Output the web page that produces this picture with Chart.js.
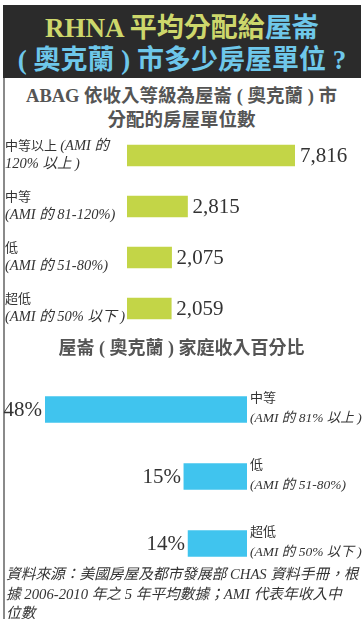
<!DOCTYPE html>
<html>
<head>
<meta charset="utf-8">
<script src="https://cdn.jsdelivr.net/npm/chart.js@4/dist/chart.umd.min.js"></script>
<style>
  html, body { margin: 0; padding: 0; background: #fff; }
  body { width: 363px; height: 619px; position: relative; overflow: hidden;
         font-family: "Liberation Serif", "Noto Sans CJK TC", serif; }
  .frame { position: absolute; left: 3px; top: 78px; width: 2px; height: 541px; background: #8a8a8a; }
  .banner { position: absolute; left: 3px; top: 5px; width: 358px; height: 73px; background: #2b2b2b;
            text-align: center; font-weight: bold; font-size: 27px; line-height: 32px; padding-top: 7px;
            box-sizing: border-box; white-space: nowrap; }
  .yl { color: #cdd76b; }
  .bl { color: #6ec7ea; }
  .sub { position: absolute; left: 0; width: 363px; text-align: center; color: #555;
         font-weight: bold; white-space: nowrap; }
  .box { position: absolute; left: 0; width: 363px; }
  .note { position: absolute; left: 6px; top: 565px; width: 360px; color: #333; font-style: italic;
          font-size: 14.7px; line-height: 19.5px; white-space: nowrap; }
</style>
</head>
<body>
<div class="banner">
  <div><span class="yl">RHNA 平均分配給</span><span class="bl">屋崙</span></div>
  <div class="bl">( 奧克蘭 ) 市多少房屋單位 ?</div>
</div>
<div class="frame"></div>
<div class="sub" style="top:84px;font-size:18.5px;line-height:24px;">ABAG 依收入等級為屋崙 ( 奧克蘭 ) 市<br>分配的房屋單位數</div>
<div class="box" style="top:128px;height:210px;"><canvas id="units"></canvas></div>
<div class="sub" style="top:336px;font-size:18px;line-height:24px;">屋崙 ( 奧克蘭 ) 家庭收入百分比</div>
<div class="box" style="top:370px;height:212px;"><canvas id="income"></canvas></div>
<div class="note">資料來源：美國房屋及都市發展部 CHAS 資料手冊，根<br>據 2006-2010 年之 5 年平均數據；AMI 代表年收入中<br>位數</div>

<script>
// housing units allocated by ABAG, per income level
const unitLevels = ['中等以上', '中等', '低', '超低'];
const unitRanges = [['(AMI 的', '120% 以上 )'], ['', '(AMI 的 81-120%)'], ['', '(AMI 的 51-80%)'], ['', '(AMI 的 50% 以下 )']];
const unitCounts = [7816, 2815, 2075, 2059];

// share of Oakland households per income level
const incomeLevels = ['中等', '低', '超低'];
const incomeRanges = ['(AMI 的 81% 以上 )', '(AMI 的 51-80%)', '(AMI 的 50% 以下 )'];
const incomeShares = [48, 15, 14];

const FONT = '"Liberation Serif", "Noto Sans CJK TC", serif';

// draws the left-hand level names and the numbers after each bar
const unitLabels = {
    id: 'unitLabels',
    afterDatasetsDraw(chart) {
        const ctx = chart.ctx;
        const meta = chart.getDatasetMeta(0);
        ctx.save();
        ctx.fillStyle = '#333';
        ctx.textBaseline = 'middle';
        meta.data.forEach(function (bar, i) {
            const y = bar.y;
            // level name (+ italic range start)
            ctx.textAlign = 'left';
            ctx.font = '13px ' + FONT;
            ctx.fillText(unitLevels[i], 5, y - 9);
            if (unitRanges[i][0]) {
                const w = ctx.measureText(unitLevels[i] + ' ').width;
                ctx.font = 'italic 14.5px ' + FONT;
                ctx.fillText(unitRanges[i][0], 5 + w, y - 9);
            }
            ctx.font = 'italic 14.5px ' + FONT;
            ctx.fillText(unitRanges[i][1], 5, y + 9);
            // value
            ctx.font = '21px ' + FONT;
            ctx.fillText(unitCounts[i].toLocaleString('en-US'), bar.x + 5, y + 1);
        });
        ctx.restore();
    }
};

const incomeLabels = {
    id: 'incomeLabels',
    afterDatasetsDraw(chart) {
        const ctx = chart.ctx;
        const meta = chart.getDatasetMeta(0);
        const right = chart.chartArea.right;
        ctx.save();
        ctx.fillStyle = '#333';
        ctx.textBaseline = 'middle';
        meta.data.forEach(function (bar, i) {
            const y = bar.y;
            ctx.textAlign = 'right';
            ctx.font = '21px ' + FONT;
            ctx.fillText(incomeShares[i] + '%', bar.x - 3, y + 1);
            ctx.textAlign = 'left';
            ctx.font = '13px ' + FONT;
            ctx.fillText(incomeLevels[i], right + 3, y - 11);
            ctx.font = 'italic 13.5px ' + FONT;
            ctx.fillText(incomeRanges[i], right + 3, y + 9);
        });
        ctx.restore();
    }
};

function hiddenAxes(xOpts) {
    return {
        x: Object.assign({ display: false, min: 0, grid: { display: false } }, xOpts),
        y: { display: false, grid: { display: false } }
    };
}

new Chart(document.getElementById('units'), {
    type: 'bar',
    data: {
        labels: unitLevels,
        datasets: [{
            data: unitCounts,
            backgroundColor: '#c3d547',
            barThickness: 21,
            borderWidth: 0
        }]
    },
    options: {
        indexAxis: 'y',
        responsive: true,
        maintainAspectRatio: false,
        animation: false,
        layout: { padding: { left: 127, right: 68, top: 2, bottom: 4 } },
        plugins: { legend: { display: false }, tooltip: { enabled: false } },
        scales: hiddenAxes({ max: 7816 })
    },
    plugins: [unitLabels]
});

new Chart(document.getElementById('income'), {
    type: 'bar',
    data: {
        labels: incomeLevels,
        datasets: [{
            data: incomeShares,
            backgroundColor: '#40c4ee',
            barThickness: 26,
            borderWidth: 0
        }]
    },
    options: {
        indexAxis: 'y',
        responsive: true,
        maintainAspectRatio: false,
        animation: false,
        layout: { padding: { left: 45, right: 116, top: 6, bottom: 5 } },
        plugins: { legend: { display: false }, tooltip: { enabled: false } },
        scales: hiddenAxes({ max: 48, reverse: true })
    },
    plugins: [incomeLabels]
});
</script>
</body>
</html>
